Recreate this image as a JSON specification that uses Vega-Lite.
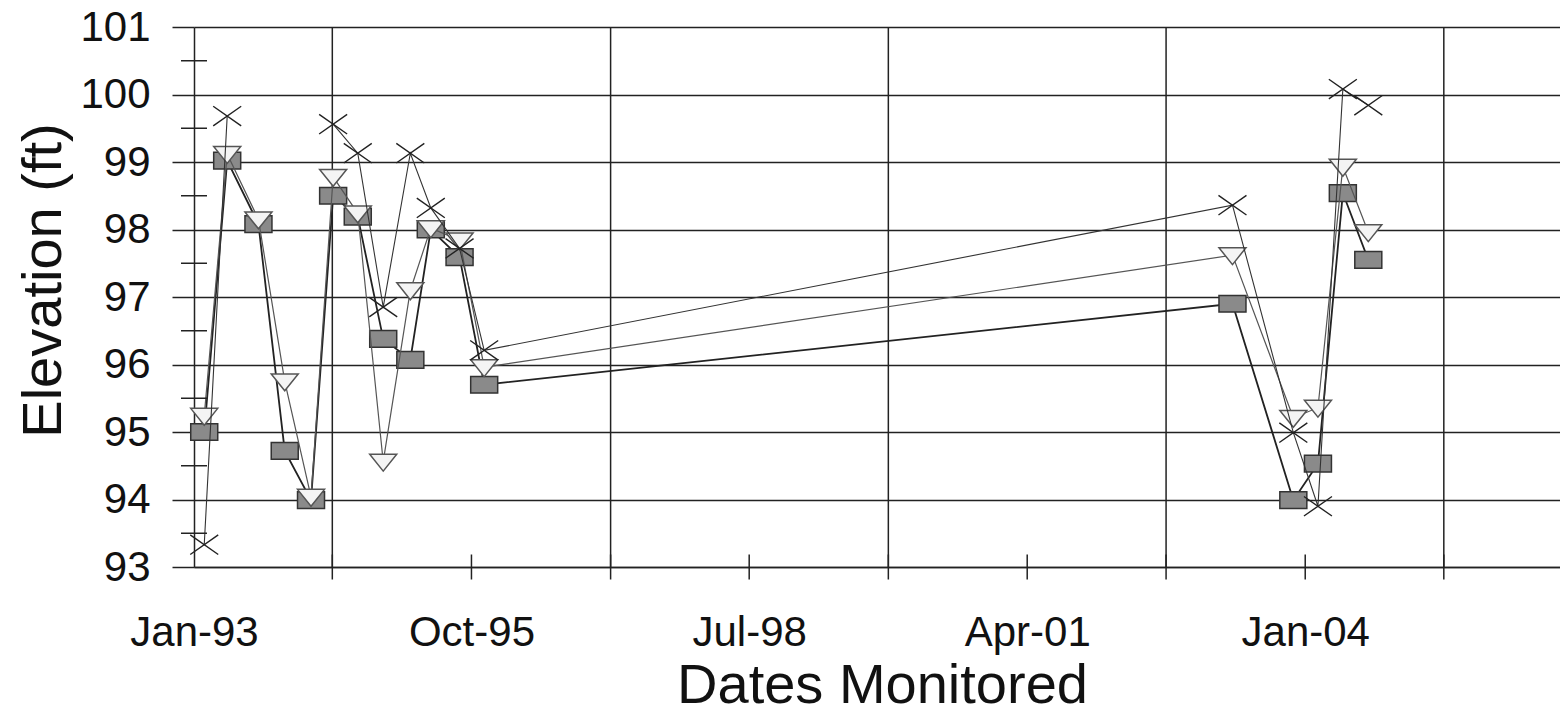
{
  "$schema": "https://vega.github.io/schema/vega-lite/v6.json",
  "width": 1366,
  "height": 540,
  "autosize": {"type": "none"},
  "padding": {"left": 194, "top": 27, "right": 0, "bottom": 147},
  "background": "white",
  "config": {"view": {"stroke": null}},
  "datasets": {
    "obs": [
      {"s": "A", "d": "1993-02-07", "v": 95.0},
      {"s": "A", "d": "1993-05-01", "v": 99.02},
      {"s": "A", "d": "1993-08-22", "v": 98.08},
      {"s": "A", "d": "1993-11-25", "v": 94.72},
      {"s": "A", "d": "1994-02-28", "v": 93.99},
      {"s": "A", "d": "1994-05-19", "v": 98.5},
      {"s": "A", "d": "1994-08-16", "v": 98.19},
      {"s": "A", "d": "1994-11-16", "v": 96.38},
      {"s": "A", "d": "1995-02-22", "v": 96.07},
      {"s": "A", "d": "1995-05-07", "v": 98.0},
      {"s": "A", "d": "1995-08-19", "v": 97.59},
      {"s": "A", "d": "1995-11-16", "v": 95.7},
      {"s": "A", "d": "2003-04-13", "v": 96.9},
      {"s": "A", "d": "2003-11-19", "v": 93.99},
      {"s": "A", "d": "2004-02-16", "v": 94.53},
      {"s": "A", "d": "2004-05-16", "v": 98.54},
      {"s": "A", "d": "2004-08-16", "v": 97.55},
      {"s": "B", "d": "1993-02-07", "v": 95.24},
      {"s": "B", "d": "1993-05-01", "v": 99.12},
      {"s": "B", "d": "1993-08-22", "v": 98.15},
      {"s": "B", "d": "1993-11-25", "v": 95.75},
      {"s": "B", "d": "1994-02-28", "v": 94.04},
      {"s": "B", "d": "1994-05-19", "v": 98.78},
      {"s": "B", "d": "1994-08-16", "v": 98.24},
      {"s": "B", "d": "1994-11-16", "v": 94.56},
      {"s": "B", "d": "1995-02-22", "v": 97.1},
      {"s": "B", "d": "1995-05-07", "v": 98.02},
      {"s": "B", "d": "1995-08-19", "v": 97.84},
      {"s": "B", "d": "1995-11-16", "v": 95.96},
      {"s": "B", "d": "2003-04-13", "v": 97.62},
      {"s": "B", "d": "2003-11-19", "v": 95.21},
      {"s": "B", "d": "2004-02-16", "v": 95.36},
      {"s": "B", "d": "2004-05-16", "v": 98.93},
      {"s": "B", "d": "2004-08-16", "v": 97.96},
      {"s": "C", "d": "1993-02-07", "v": 93.33},
      {"s": "C", "d": "1993-05-01", "v": 99.68},
      {"s": "C", "d": "1993-08-22", "v": null},
      {"s": "C", "d": "1993-11-25", "v": null},
      {"s": "C", "d": "1994-02-28", "v": null},
      {"s": "C", "d": "1994-05-19", "v": 99.56},
      {"s": "C", "d": "1994-08-16", "v": 99.13},
      {"s": "C", "d": "1994-11-16", "v": 96.85},
      {"s": "C", "d": "1995-02-22", "v": 99.13},
      {"s": "C", "d": "1995-05-07", "v": 98.32},
      {"s": "C", "d": "1995-08-19", "v": 97.72},
      {"s": "C", "d": "1995-11-16", "v": 96.21},
      {"s": "C", "d": "2003-04-13", "v": 98.36},
      {"s": "C", "d": "2003-11-19", "v": 94.99},
      {"s": "C", "d": "2004-02-16", "v": 93.9},
      {"s": "C", "d": "2004-05-16", "v": 100.08},
      {"s": "C", "d": "2004-08-16", "v": 99.84}
    ],
    "grid": [
      {"d": "1994-05-16"},
      {"d": "1997-02-15"},
      {"d": "1999-11-16"},
      {"d": "2002-08-16"},
      {"d": "2005-05-16"}
    ],
    "xticks": [
      {"d": "1994-05-16"},
      {"d": "1995-10-01"},
      {"d": "1997-02-15"},
      {"d": "1998-07-01"},
      {"d": "1999-11-16"},
      {"d": "2001-04-01"},
      {"d": "2002-08-16"},
      {"d": "2004-01-01"},
      {"d": "2005-05-16"}
    ],
    "yminor": [
      {"v": 93.5}, {"v": 94.5}, {"v": 95.5}, {"v": 96.5},
      {"v": 97.5}, {"v": 98.5}, {"v": 99.5}, {"v": 100.5}
    ]
  },
  "layer": [
    {
      "data": {"name": "grid"},
      "mark": {"type": "rule", "color": "#222", "strokeWidth": 1.5},
      "encoding": {
        "x": {
          "field": "d", "type": "temporal",
          "scale": {"type": "utc", "domain": [{"year": 1993, "month": 1, "date": 1, "utc": true}, {"year": 2006, "month": 7, "date": 10, "utc": true}]}
        }
      }
    },
    {
      "data": {"name": "obs"},
      "transform": [{"filter": "datum.s === 'A'"}],
      "mark": {"type": "line", "color": "#222", "strokeWidth": 1.8},
      "encoding": {
        "x": {
          "field": "d", "type": "temporal",
          "scale": {"type": "utc", "domain": [{"year": 1993, "month": 1, "date": 1, "utc": true}, {"year": 2006, "month": 7, "date": 10, "utc": true}]},
          "axis": {
            "values": [
              {"year": 1993, "month": 1, "date": 1, "utc": true},
              {"year": 1995, "month": 10, "date": 1, "utc": true},
              {"year": 1998, "month": 7, "date": 1, "utc": true},
              {"year": 2001, "month": 4, "date": 1, "utc": true},
              {"year": 2004, "month": 1, "date": 1, "utc": true}
            ],
            "labelExpr": "utcFormat(datum.value, '%b-%y')",
            "title": "Dates Monitored",
            "grid": false,
            "ticks": false,
            "tickSize": 0,
            "domainColor": "#222",
            "domainWidth": 1.5,
            "labelFont": "Liberation Sans",
            "labelFontSize": 42,
            "labelColor": "#111",
            "labelBaseline": "alphabetic",
            "labelPadding": 78,
            "labelFlush": false,
            "labelOverlap": false,
            "titleFont": "Liberation Sans",
            "titleFontSize": 56,
            "titleFontWeight": "normal",
            "titleColor": "#111",
            "titleX": 688,
            "titleY": 135,
            "titleAlign": "center",
            "titleBaseline": "alphabetic"
          }
        },
        "y": {
          "field": "v", "type": "quantitative",
          "scale": {"domain": [93, 101], "nice": false, "zero": false},
          "axis": {
            "values": [93, 94, 95, 96, 97, 98, 99, 100, 101],
            "labelExpr": "format(datum.value, 'd')",
            "title": "Elevation (ft)",
            "grid": true,
            "gridColor": "#222",
            "gridWidth": 1.5,
            "gridOpacity": 1,
            "domainColor": "#222",
            "domainWidth": 1.5,
            "tickColor": "#222",
            "tickWidth": 1.5,
            "tickSize": 22,
            "labelFont": "Liberation Sans",
            "labelFontSize": 42,
            "labelColor": "#111",
            "labelPadding": 22,
            "titleFont": "Liberation Sans",
            "titleFontSize": 56,
            "titleFontWeight": "normal",
            "titleColor": "#111",
            "titleAngle": -90,
            "titleX": -134,
            "titleY": 253,
            "titleAlign": "center",
            "titleBaseline": "alphabetic"
          }
        }
      }
    },
    {
      "data": {"name": "obs"},
      "transform": [{"filter": "datum.s === 'A'"}],
      "mark": {"type": "point", "shape": "M-1,-0.62H1V0.62H-1Z", "size": 729, "filled": true, "fill": "#8a8a8a", "stroke": "#333", "strokeWidth": 1.5, "opacity": 1},
      "encoding": {
        "x": {"field": "d", "type": "temporal"},
        "y": {"field": "v", "type": "quantitative"}
      }
    },
    {
      "data": {"name": "obs"},
      "transform": [{"filter": "datum.s === 'B'"}],
      "mark": {"type": "line", "color": "#555", "strokeWidth": 1.2},
      "encoding": {
        "x": {"field": "d", "type": "temporal"},
        "y": {"field": "v", "type": "quantitative"}
      }
    },
    {
      "data": {"name": "obs"},
      "transform": [{"filter": "datum.s === 'B'"}],
      "mark": {"type": "point", "shape": "M-1,-0.55H1L0,0.7Z", "size": 729, "filled": true, "fill": "#f4f4f4", "stroke": "#555", "strokeWidth": 1.5, "opacity": 1},
      "encoding": {
        "x": {"field": "d", "type": "temporal"},
        "y": {"field": "v", "type": "quantitative"}
      }
    },
    {
      "data": {"name": "obs"},
      "transform": [{"filter": "datum.s === 'C'"}],
      "mark": {"type": "line", "color": "#333", "strokeWidth": 1.1, "invalid": "break-paths-show-domains"},
      "encoding": {
        "x": {"field": "d", "type": "temporal"},
        "y": {"field": "v", "type": "quantitative"}
      }
    },
    {
      "data": {"name": "obs"},
      "transform": [{"filter": "datum.s === 'C' && datum.v != null"}],
      "mark": {"type": "point", "shape": "M-1,-0.7L1,0.7M-1,0.7L1,-0.7", "size": 784, "filled": false, "stroke": "#222", "strokeWidth": 1.4, "opacity": 1},
      "encoding": {
        "x": {"field": "d", "type": "temporal"},
        "y": {"field": "v", "type": "quantitative"}
      }
    },
    {
      "data": {"name": "yminor"},
      "mark": {"type": "tick", "orient": "horizontal", "size": 26, "thickness": 1.5, "color": "#222", "opacity": 1},
      "encoding": {
        "x": {"datum": {"year": 1993, "month": 1, "date": 1, "utc": true}, "type": "temporal"},
        "y": {"field": "v", "type": "quantitative"}
      }
    },
    {
      "data": {"name": "xticks"},
      "mark": {"type": "tick", "orient": "vertical", "size": 25, "thickness": 1.5, "color": "#222", "opacity": 1},
      "encoding": {
        "x": {"field": "d", "type": "temporal"},
        "y": {"datum": 93, "type": "quantitative"}
      }
    }
  ]
}
